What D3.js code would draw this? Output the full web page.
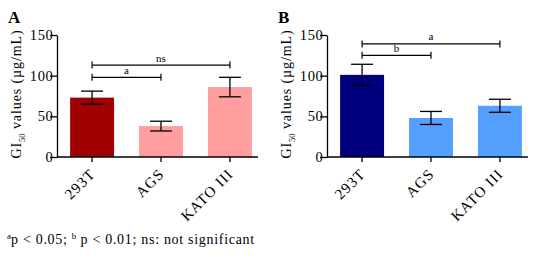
<!DOCTYPE html>
<html>
<head>
<meta charset="utf-8">
<script src="https://cdn.jsdelivr.net/npm/d3@7"></script>
<style>
  body { margin: 0; background: #fff; }
  text { font-family: "Liberation Serif", "DejaVu Serif", serif; fill: #000; }
</style>
</head>
<body>
<script>
var w = 537;
var h = 259;

// data
var cells = ["293T", "AGS", "KATO III"];
var meanA = [73, 38, 86];
var errA = [8, 6, 12];
var meanB = [101, 48, 63];
var errB = [13, 8, 8];
var yTicks = [0, 50, 100, 150];
// significance brackets: [from, to, level, label]
var sigA = [["293T", "AGS", 98, "a"], ["293T", "KATO III", 113, "ns"]];
var sigB = [["293T", "AGS", 125, "b"], ["293T", "KATO III", 139, "a"]];
var colorsA = ["#a00000", "#ff9e9e", "#ff9e9e"];
var colorsB = ["#00007e", "#55a0ff", "#55a0ff"];

var svg = d3.select("body")
            .append("svg")
            .attr("width", w)
            .attr("height", h);

function panel(offsetX, letter, means, errs, sig, colors) {
    var g = svg.append("g").attr("transform", "translate(" + offsetX + ",0)");

    var x = d3.scaleBand() //bars 44px wide, 69px apart
              .domain(cells)
              .range([57, 265])
              .paddingInner(0.362)
              .paddingOuter(0.19);
    var y = d3.scaleLinear()
              .domain([0, 150])
              .range([157, 35]);

    g.append("text")
     .attr("x", 8).attr("y", 23)
     .style("font-size", "17px")
     .style("font-weight", "bold")
     .text(letter);

    // bars
    g.selectAll("rect.bar")
     .data(means)
     .enter()
     .append("rect")
     .attr("class", "bar")
     .attr("x", function(d, i) { return x(cells[i]); })
     .attr("width", x.bandwidth())
     .attr("y", function(d) { return y(d); })
     .attr("height", function(d) { return y(0) - y(d); })
     .attr("fill", function(d, i) { return colors[i]; });

    // error bars
    var eb = g.selectAll("g.err")
              .data(means)
              .enter()
              .append("g")
              .attr("class", "err")
              .attr("stroke", "#000")
              .attr("stroke-width", 1.3);
    eb.append("line")
      .attr("x1", function(d, i) { return x(cells[i]) + x.bandwidth() / 2; })
      .attr("x2", function(d, i) { return x(cells[i]) + x.bandwidth() / 2; })
      .attr("y1", function(d, i) { return y(d + errs[i]); })
      .attr("y2", function(d, i) { return y(d - errs[i]); });
    [1, -1].forEach(function(s) {
        eb.append("line")
          .attr("x1", function(d, i) { return x(cells[i]) + x.bandwidth() / 2 - 11; })
          .attr("x2", function(d, i) { return x(cells[i]) + x.bandwidth() / 2 + 11; })
          .attr("y1", function(d, i) { return y(d + s * errs[i]); })
          .attr("y2", function(d, i) { return y(d + s * errs[i]); });
    });

    // y axis
    var yAxis = g.append("g")
                 .attr("transform", "translate(57,0)")
                 .call(d3.axisLeft(y).tickValues(yTicks).tickSize(7).tickPadding(1).tickSizeOuter(0));
    yAxis.selectAll("text")
         .style("font-size", "14.5px")
         .style("letter-spacing", "0.6px")
         .attr("dx", "0.3em");

    // x axis
    var xAxis = g.append("g")
                 .attr("transform", "translate(0,157)")
                 .call(d3.axisBottom(x).tickSize(5).tickSizeOuter(0));
    xAxis.select(".domain").attr("d", "M57,0H" + (x(cells[2]) + x.bandwidth() + 6));
    xAxis.selectAll("text")
         .style("font-size", "15px")
         .style("letter-spacing", "1px")
         .attr("text-anchor", "end")
         .attr("y", 0).attr("dy", 0)
         .attr("transform", "translate(4,18) rotate(-45)");
    g.selectAll(".domain, .tick line").attr("stroke", "#000").attr("stroke-width", 1.3);

    // y title
    var t = g.append("text")
             .attr("transform", "translate(21,94) rotate(-90)")
             .attr("text-anchor", "middle")
             .style("font-size", "14px")
             .style("letter-spacing", "0.9px");
    t.append("tspan").text("GI");
    t.append("tspan").attr("dy", 4).style("font-size", "8.5px").style("letter-spacing", "0px").text("50");
    t.append("tspan").attr("dy", -4).text(" values (\u00b5g/mL)");

    // significance brackets
    var br = g.selectAll("g.sig")
              .data(sig)
              .enter()
              .append("g")
              .attr("class", "sig");
    var cx = function(c) { return x(c) + x.bandwidth() / 2; };
    br.append("line")
      .attr("x1", function(d) { return cx(d[0]); })
      .attr("x2", function(d) { return cx(d[1]); })
      .attr("y1", function(d) { return y(d[2]); })
      .attr("y2", function(d) { return y(d[2]); });
    [0, 1].forEach(function(k) {
        br.append("line")
          .attr("x1", function(d) { return cx(d[k]); })
          .attr("x2", function(d) { return cx(d[k]); })
          .attr("y1", function(d) { return y(d[2]) - 3.5; })
          .attr("y2", function(d) { return y(d[2]) + 3.5; });
    });
    br.selectAll("line").attr("stroke", "#000").attr("stroke-width", 1.2);
    br.append("text")
      .attr("x", function(d) { return (cx(d[0]) + cx(d[1])) / 2; })
      .attr("y", function(d) { return y(d[2]) - 3.5; })
      .attr("text-anchor", "middle")
      .style("font-size", "11px")
      .text(function(d) { return d[3]; });
}

panel(0, "A", meanA, errA, sigA, colorsA);
panel(270, "B", meanB, errB, sigB, colorsB);

// footnote
var note = svg.append("text")
              .attr("x", 7).attr("y", 244)
              .style("font-size", "14px")
              .style("letter-spacing", "0.7px");
note.append("tspan").attr("dy", -5).style("font-size", "9px").style("letter-spacing", "0px").text("a");
note.append("tspan").attr("dy", 5).text("p < 0.05; ");
note.append("tspan").attr("dy", -5).style("font-size", "9px").style("letter-spacing", "0px").text("b");
note.append("tspan").attr("dy", 5).text(" p < 0.01; ns: not significant");
</script>
</body>
</html>
